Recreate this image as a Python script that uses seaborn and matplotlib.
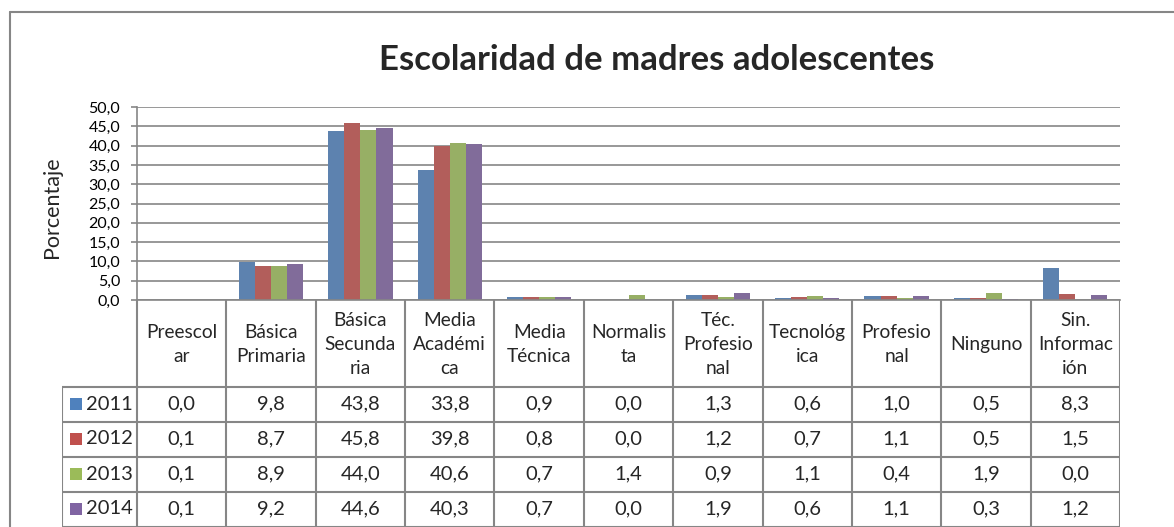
import numpy as np
import pandas as pd
import matplotlib
matplotlib.use('Agg')
import matplotlib.pyplot as plt
from matplotlib.lines import Line2D
from matplotlib.patches import Rectangle
import seaborn as sns

# Data
categories = ['Preescolar', 'Básica Primaria', 'Básica Secundaria', 'Media Académica',
              'Media Técnica', 'Normalista', 'Téc. Profesional', 'Tecnológica',
              'Profesional', 'Ninguno', 'Sin. Información']
header_labels = ['Preescol\nar', 'Básica\nPrimaria', 'Básica\nSecunda\nria', 'Media\nAcadémi\nca',
                 'Media\nTécnica', 'Normalis\nta', 'Téc.\nProfesio\nnal', 'Tecnológ\nica',
                 'Profesio\nnal', 'Ninguno', 'Sin.\nInformac\nión']
years = ['2011', '2012', '2013', '2014']
v2011 = [0.0, 9.8, 43.8, 33.8, 0.9, 0.0, 1.3, 0.6, 1.0, 0.5, 8.3]
v2012 = [0.1, 8.7, 45.8, 39.8, 0.8, 0.0, 1.2, 0.7, 1.1, 0.5, 1.5]
v2013 = [0.1, 8.9, 44.0, 40.6, 0.7, 1.4, 0.9, 1.1, 0.4, 1.9, 0.0]
v2014 = [0.1, 9.2, 44.6, 40.3, 0.7, 0.0, 1.9, 0.6, 1.1, 0.3, 1.2]
colors = ['#4F81BD', '#C0504D', '#9BBB59', '#8064A2']

series = {'2011': v2011, '2012': v2012, '2013': v2013, '2014': v2014}
df = pd.DataFrame([
    {'Categoria': c, 'Año': y, 'Porcentaje': v}
    for y in years for c, v in zip(categories, series[y])
])

sns.set_theme(style='white')
plt.rcParams['font.family'] = ['Lato', 'DejaVu Sans']

W, H = 1174, 527
fig = plt.figure(figsize=(W / 100, H / 100), dpi=100)


def box(l, t, r, b):
    return [l / W, 1 - b / H, (r - l) / W, (b - t) / H]


grey = '#868686'
fs_table = 14.5

# Bars
ax = fig.add_axes(box(137, 107, 1120, 300))
sns.barplot(data=df, x='Categoria', y='Porcentaje', hue='Año', order=categories,
            hue_order=years, palette=dict(zip(years, colors)), width=0.72,
            linewidth=0, legend=False, ax=ax)
ax.set_xlim(-0.5, len(categories) - 0.5)
ax.set_ylim(0, 50)
yt = np.arange(0, 50.1, 5)
ax.set_yticks(yt)
ax.set_yticklabels([f'{t:.1f}'.replace('.', ',') for t in yt])
ax.set_xticks([])
ax.set_xlabel('')
ax.set_ylabel('')
ax.yaxis.grid(True, color=grey, lw=1.2)
ax.set_axisbelow(True)
for s in ['top', 'right']:
    ax.spines[s].set_visible(False)
for s in ['left', 'bottom']:
    ax.spines[s].set_color(grey)
    ax.spines[s].set_linewidth(1.2)
ax.tick_params(axis='y', left=True, length=4, width=1.2, color=grey,
               labelsize=11.5, pad=8, labelcolor='black')

# Titles
fig.text(657 / W, 1 - 60 / H, 'Escolaridad de madres adolescentes',
         fontsize=25, fontweight='bold', ha='center', va='center')
fig.text(52 / W, 1 - 207 / H, 'Porcentaje', fontsize=15.5, rotation=90,
         ha='center', va='center')

# Data table
cat_w = (1120 - 137) / len(categories)
x0 = -0.5 - (137 - 62) / cat_w
xr = len(categories) - 0.5
tab = fig.add_axes(box(62, 300, 1120, 527))
tab.set_xlim(x0, xr)
tab.set_ylim(527, 300)
tab.axis('off')
rows_y = [300, 387, 421.5, 456.5, 491.5, 526.5]
lk = dict(color=grey, lw=1.5, solid_capstyle='butt')
for k in range(len(categories) + 1):
    tab.plot([-0.5 + k, -0.5 + k], [300, rows_y[-1]], **lk)
tab.plot([x0, x0], [rows_y[1], rows_y[-1]], **lk)
for y in rows_y[1:]:
    tab.plot([x0, xr], [y, y], **lk)

for i, lab in enumerate(header_labels):
    tab.text(i, (rows_y[0] + rows_y[1]) / 2 + 1, lab, ha='center', va='center',
             multialignment='center', fontsize=13.8, linespacing=1.5)

px = (xr - x0) / (1120 - 62)
for r, (y, c) in enumerate(zip(years, colors)):
    yc = (rows_y[r + 1] + rows_y[r + 2]) / 2
    tab.add_patch(Rectangle((x0 + 8 * px, yc - 6), 12 * px, 12, color=c, lw=0))
    tab.text(x0 + 24 * px, yc, y, ha='left', va='center', fontsize=fs_table)
    for i, v in enumerate(series[y]):
        tab.text(i, yc, f'{v:.1f}'.replace('.', ','), ha='center', va='center',
                 fontsize=fs_table)

# Chart frame
fig.add_artist(Line2D([10 / W, 10 / W], [0, 1 - 12 / H], color=grey, lw=1.5))
fig.add_artist(Line2D([10 / W, 1], [1 - 12 / H, 1 - 12 / H], color=grey, lw=1.5))

fig.savefig('out.png', dpi=100)
